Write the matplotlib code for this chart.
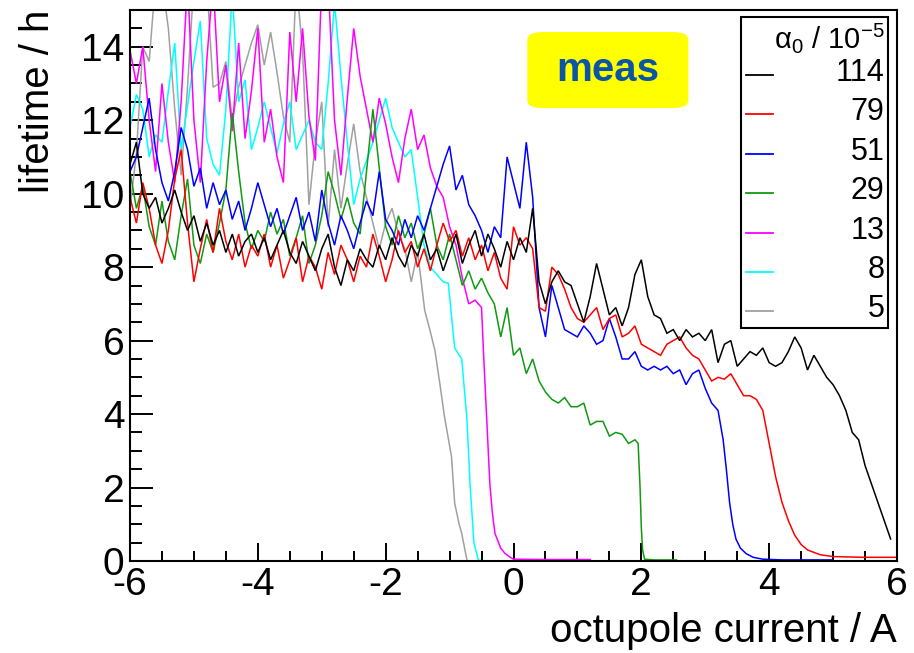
import numpy as np
import matplotlib
matplotlib.use("Agg")
import matplotlib.pyplot as plt
from matplotlib.patches import Rectangle, FancyBboxPatch
from matplotlib.lines import Line2D
from matplotlib.ticker import MultipleLocator

plt.rcParams['font.family'] = ['Liberation Sans', 'DejaVu Sans']
plt.rcParams['mathtext.fontset'] = 'custom'
plt.rcParams['mathtext.rm'] = 'Liberation Sans'
plt.rcParams['mathtext.it'] = 'Liberation Sans:italic'
plt.rcParams['axes.unicode_minus'] = False

# ---------------- data ----------------
step = 0.1
x_start = -6.0

black_main = [10.8, 11.4, 10.0, 9.6, 9.9, 9.2, 9.6, 10.1, 9.5, 9.0,
              9.4, 8.7, 9.2, 8.6, 9.0, 8.4, 8.9, 8.3, 8.7, 8.9,
              8.4, 8.8, 8.2, 8.6, 9.0, 8.4, 8.1, 8.7, 8.3, 7.9,
              8.5, 8.9, 8.0, 7.5, 8.2, 7.9, 8.5, 8.2, 8.0, 8.6,
              8.2, 8.8, 8.3, 8.0, 8.6, 8.3, 8.9, 8.2, 8.5, 7.9,
              8.4, 8.9, 8.1, 8.6, 9.0, 8.3, 8.9, 8.5, 8.0, 8.7,
              8.2, 8.8, 8.4, 9.6, 7.6, 7.0, 7.6, 7.9, 7.6, 7.5,
              7.0, 6.5, 7.2, 8.1, 7.4, 6.7, 6.9, 6.4, 6.9, 7.8,
              8.2, 7.2, 6.7, 6.6, 6.2, 6.3, 6.0, 6.3, 6.1, 6.2,
              6.0, 6.3, 5.4, 5.9, 6.0, 5.3, 5.5, 5.7, 5.6, 5.8,
              5.4, 5.3, 5.4, 5.7, 6.1, 5.8, 5.2, 5.6, 5.3, 5.0,
              4.8, 4.5, 4.1, 3.5, 3.3, 2.6, 2.1, 1.6, 1.1, 0.6]
black_tail_x = []
black_tail_y = []

red_main = [9.9, 9.2, 10.3, 9.6, 8.6, 8.1, 9.0, 10.4, 11.2, 9.2,
            7.6, 8.5, 9.3, 8.4, 9.6, 8.7, 8.2, 8.9, 8.0, 8.6,
            8.3, 8.9, 8.0, 8.6, 7.7, 8.2, 8.8, 7.6, 8.3, 8.0,
            7.4, 8.4, 7.8, 8.6, 8.2, 7.6, 8.3, 8.0, 8.9, 8.3,
            7.6, 8.2, 9.0, 8.4, 8.7, 8.0, 8.5, 7.9, 8.6, 9.2,
            8.7, 9.0, 8.3, 8.8, 8.2, 8.6, 7.9, 8.4, 7.7, 7.4,
            9.1, 8.6, 8.8, 8.5, 6.9, 6.8, 8.0, 7.8, 7.4, 6.9,
            6.6, 6.5, 6.7, 6.9, 6.3, 6.6, 6.7, 6.1, 6.2, 6.4,
            5.9, 5.8, 5.7, 5.6, 5.9, 6.0, 6.1, 5.8, 5.6, 5.5,
            5.2, 4.9, 5.0, 4.95, 5.1, 4.8, 4.5, 4.5, 4.4, 4.1]
red_tail_x = [4.0, 4.1, 4.2, 4.3, 4.4, 4.5, 4.6, 4.8, 5.0, 5.5, 6.0]
red_tail_y = [3.2, 2.3, 1.6, 1.1, 0.7, 0.45, 0.3, 0.17, 0.12, 0.1, 0.1]

blue_main = [10.6, 11.0, 11.8, 12.6, 11.2, 10.3, 9.8, 10.6, 11.8, 11.2,
             10.2, 10.7, 9.6, 10.3, 9.7, 10.1, 9.3, 9.8, 9.0, 9.6,
             10.3, 9.7, 9.1, 9.6, 8.9, 9.4, 9.9, 9.0, 9.5, 8.7,
             10.1, 9.2, 8.6, 9.4, 9.0, 8.5, 9.2, 9.8, 9.4, 10.6,
             9.3, 9.0, 8.6, 9.3, 8.8, 9.4, 9.0, 9.6, 10.2, 10.8,
             11.3, 10.1, 10.5, 9.7, 9.4, 9.0, 8.4, 9.1, 8.8, 11.0,
             10.3, 9.6, 11.4, 9.9, 6.9, 6.1, 7.5, 6.9, 6.3, 6.2,
             6.1, 6.4, 6.2, 5.9, 6.0, 6.6, 6.1, 5.5, 5.5, 5.7,
             5.3, 5.2, 5.3, 5.2, 5.3, 5.1, 5.2, 4.8, 5.1, 5.2,
             4.7, 4.3, 4.1]
blue_tail_x = [3.28, 3.33, 3.38, 3.43, 3.48, 3.55, 3.64, 3.75, 3.9, 4.2, 5.0]
blue_tail_y = [3.3, 2.5, 1.6, 1.0, 0.6, 0.35, 0.2, 0.1, 0.05, 0.03, 0.03]

green_main = [10.6, 9.6, 10.2, 9.1, 8.6, 9.8, 8.7, 8.2, 9.4, 10.4,
              8.6, 8.1, 8.9, 8.4, 9.2, 10.1, 12.2, 10.6, 9.2, 8.5,
              9.0, 8.7, 9.5, 8.9, 9.3, 8.3, 8.8, 9.4, 8.1, 8.6,
              9.4, 10.6, 10.0, 9.3, 9.9, 9.2, 8.9, 10.6, 12.3, 10.7,
              9.1, 8.6, 9.4, 8.8, 9.2, 8.5, 8.9, 9.6, 8.6, 8.2,
              8.9, 8.2, 7.5, 7.9, 7.4, 7.7, 7.3, 7.0, 6.1, 6.9,
              5.6, 5.8, 5.1, 5.5, 4.9, 4.6, 4.4, 4.3, 4.45, 4.2,
              4.2, 4.3, 3.7, 3.8, 3.8, 3.4, 3.5, 3.45, 3.2, 3.3]
green_tail_x = [1.95, 1.98, 2.0, 2.02, 2.05, 2.2, 2.55]
green_tail_y = [3.2, 2.0, 0.9, 0.3, 0.05, 0.03, 0.03]

magenta_main = [13.9, 13.0, 14.0, 12.0, 10.6, 13.0, 11.4, 10.3, 12.5, 15.8,
                12.0, 10.3, 13.6, 15.8, 12.5, 13.5, 11.7, 14.1, 11.5, 12.8,
                14.5, 11.4, 12.3, 11.0, 10.3, 14.4, 12.5, 14.5, 12.1, 10.9,
                15.8, 15.8, 12.0, 10.5, 12.6, 14.5, 13.2, 12.3, 11.4, 12.6,
                11.9, 11.0, 10.3, 11.5, 12.3, 11.2, 11.6, 10.7, 10.2, 9.9,
                9.1, 8.6, 7.7, 7.0, 7.1, 6.9]
magenta_tail_x = [-0.47, -0.42, -0.37, -0.33, -0.29, -0.2, -0.13, -0.05, 0.0, 0.5, 1.2]
magenta_tail_y = [5.7, 3.9, 2.1, 1.3, 0.75, 0.35, 0.2, 0.1, 0.05, 0.04, 0.04]

cyan_main = [11.8, 12.7, 12.3, 11.0, 11.6, 11.4, 12.8, 14.1, 11.2, 12.4,
             13.6, 14.7, 11.5, 10.8, 10.5, 12.3, 15.5, 12.5, 13.1, 11.2,
             11.8, 12.5, 11.8, 11.1, 11.9, 12.5, 11.2, 11.6, 12.0, 11.4,
             11.2, 13.0, 15.2, 13.2, 11.4, 9.7, 10.4, 10.9, 11.4, 12.0,
             12.6, 11.8, 11.4, 11.0, 11.2, 9.9, 8.6, 8.0, 7.8, 7.6]
cyan_tail_x = [-1.02, -0.92, -0.81, -0.73, -0.68, -0.62, -0.55, -0.52]
cyan_tail_y = [7.56, 5.8, 5.5, 3.9, 2.1, 0.5, 0.02, 0.02]

gray_main = [9.6, 11.1, 14.0, 13.6, 15.8, 15.8, 14.5, 12.3, 10.5, 12.9,
             15.8, 15.8, 15.8, 12.9, 13.0, 13.6, 12.0, 12.9, 13.5, 14.1,
             14.6, 13.5, 14.4, 13.3, 12.1, 11.4, 15.8, 13.9, 9.7, 11.4,
             12.5, 9.1, 11.2, 9.6, 10.8, 11.9, 10.6, 9.9, 9.2, 8.5,
             9.2, 9.6, 8.9, 8.5, 7.6, 8.4]
gray_tail_x = [-1.44, -1.39, -1.31, -1.23, -1.15, -1.08, -0.97, -0.92, -0.85, -0.81, -0.76, -0.73]
gray_tail_y = [7.56, 6.83, 6.3, 5.74, 4.8, 3.93, 2.84, 1.57, 1.0, 0.75, 0.3, 0.05]

labels = ['114', '79', '51', '29', '13', '8', '5']
colors = ['#000000', '#ff0000', '#0000ff', '#109a10', '#ff00ff', '#00ffff', '#a0a0a0']
series = [(black_main, black_tail_x, black_tail_y),
          (red_main, red_tail_x, red_tail_y),
          (blue_main, blue_tail_x, blue_tail_y),
          (green_main, green_tail_x, green_tail_y),
          (magenta_main, magenta_tail_x, magenta_tail_y),
          (cyan_main, cyan_tail_x, cyan_tail_y),
          (gray_main, gray_tail_x, gray_tail_y)]

x_ticks = [-6, -4, -2, 0, 2, 4, 6]
y_ticks = [0, 2, 4, 6, 8, 10, 12, 14]

# ---------------- figure ----------------
fig = plt.figure(figsize=(9.14, 6.53), dpi=100)
ax = fig.add_axes([130/914, 1-561/653, 767/914, 551/653])

for (ym, tx, ty), c in reversed(list(zip(series, colors))):
    xm = x_start + step*np.arange(len(ym))
    xs = np.concatenate([xm, np.array(tx, dtype=float)])
    ys = np.concatenate([np.array(ym, dtype=float), np.array(ty, dtype=float)])
    ax.plot(xs, ys, color=c, lw=1.1, solid_joinstyle='miter')

ax.set_xlim(-6, 6)
ax.set_ylim(0, 15)
ax.set_xticks(x_ticks)
ax.set_yticks(y_ticks)
ax.xaxis.set_minor_locator(MultipleLocator(0.5))
ax.yaxis.set_minor_locator(MultipleLocator(0.5))
ax.tick_params(axis='both', which='both', direction='in', top=False, right=False,
               width=1.4, labelsize=28, colors='black')
ax.tick_params(axis='y', which='major', length=16.5, pad=4)
ax.tick_params(axis='y', which='minor', length=8.5)
ax.tick_params(axis='x', which='major', length=13, pad=4)
ax.tick_params(axis='x', which='minor', length=7)
for s in ax.spines.values():
    s.set_linewidth(1.5)

ax.set_xlabel('octupole current / A', fontsize=29, loc='right', labelpad=7)
ax.set_ylabel('lifetime / h', fontsize=29, loc='top', labelpad=17)

# "meas" box
box = FancyBboxPatch((0.518, 0.822), 0.21, 0.138,
                     boxstyle='round,pad=0,rounding_size=0.02',
                     transform=ax.transAxes, facecolor='#ffff00',
                     edgecolor='none', zorder=5, mutation_aspect=551/767)
ax.add_patch(box)
ax.text(0.6225, 0.891, 'meas', transform=ax.transAxes, ha='center', va='center',
        fontsize=29, fontweight='bold', color='#0a55a5', zorder=6)

# legend (manual, ROOT style, right-aligned labels)
lx0, lx1, ly0, ly1 = 0.797, 0.988, 0.423, 0.987
ax.add_patch(Rectangle((lx0, ly0), lx1-lx0, ly1-ly0, transform=ax.transAxes,
                       facecolor='white', edgecolor='black', lw=1.5, zorder=7))
ax.text(0.984, 0.950, r'α$_0$ / 10$^{-5}$', transform=ax.transAxes,
        ha='right', va='center', fontsize=21, zorder=8)
row_y = [0.882, 0.811, 0.739, 0.668, 0.595, 0.524, 0.454]
for lab, c, yy in zip(labels, colors, row_y):
    ax.add_line(Line2D([0.803, 0.838], [yy, yy], transform=ax.transAxes,
                       color=c, lw=1.3, zorder=8))
    ax.text(0.984, yy+0.004, lab, transform=ax.transAxes, ha='right', va='center',
            fontsize=22, zorder=8)

fig.savefig('out.png', dpi=100)
